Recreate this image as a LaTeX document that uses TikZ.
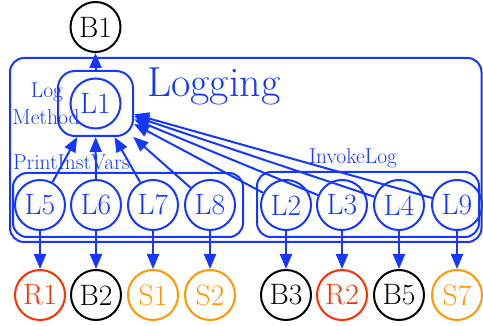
\documentclass[tikz,border=0pt]{standalone}
\usetikzlibrary{arrows.meta}
\definecolor{gvblue}{RGB}{20,56,255}
\definecolor{gvred}{RGB}{255,48,0}
\definecolor{gvorange}{RGB}{255,152,0}
\begin{document}
\begin{tikzpicture}[x=1pt,y=-1pt,
  nd/.style={circle, draw, line width=2pt, minimum size=50pt, inner sep=0pt,
    font=\fontsize{29.5}{29.5}\selectfont},
  lnode/.style={nd, gvblue},
  rnode/.style={nd, gvred},
  onode/.style={nd, gvorange},
  bnode/.style={nd, black},
  edge/.style={gvblue, line width=2pt, -{Triangle[length=15pt,width=12pt]}},
  box/.style={draw=gvblue, line width=2pt, rounded corners=14pt},
  lbl/.style={gvblue, inner sep=0pt, font=\fontsize{21.5}{21.5}\selectfont}
]
\useasboundingbox (0,0) rectangle (483,326);

% clusters
\draw[box] (10,58) rectangle (481.5,242);
\draw[box] (13,173) rectangle (243,237);
\draw[box] (257,172) rectangle (479,237);
\node[box, rounded corners=17pt, minimum width=75pt, minimum height=65pt, inner sep=0pt] (lm) at (95.5,103.5) {};

% cluster labels
\node[gvblue, inner sep=0pt, anchor=base west, font=\fontsize{42}{42}\selectfont] (tlog) at (147,97) {Logging};
\node[lbl, anchor=base] (tlm1) at (47,98) {Log};
\node[lbl, anchor=base] (tlm2) at (46,125) {Method};
\node[lbl, anchor=base west] (tpiv) at (13,170) {PrintInstVars};
\node[lbl, anchor=base] (tinv) at (353,164) {InvokeLog};

% nodes
\node[bnode] (B1) at (95.5,27) {B1};
\node[lnode] (L1) at (95.5,103.5) {L1};

\node[lnode] (L5) at (40,205) {L5};
\node[lnode] (L6) at (96,205) {L6};
\node[lnode] (L7) at (153,205) {L7};
\node[lnode] (L8) at (210,205) {L8};
\node[lnode] (L2) at (286,205) {L2};
\node[lnode] (L3) at (342,205) {L3};
\node[lnode] (L4) at (399,205) {L4};
\node[lnode] (L9) at (457,205) {L9};

\node[rnode] (R1) at (40,295) {R1};
\node[bnode] (B2) at (96,295) {B2};
\node[onode] (S1) at (153,295) {S1};
\node[onode] (S2) at (210,295) {S2};
\node[bnode] (B3) at (286,295) {B3};
\node[rnode] (R2) at (342,295) {R2};
\node[bnode] (B5) at (399,295) {B5};
\node[onode] (S7) at (457,295) {S7};

% edges
\draw[edge] (lm) -- (B1);
\foreach \s in {L5,L6,L7,L8,L2,L3,L4,L9}
  \draw[edge] (\s) -- (lm);
\draw[edge] (L5) -- (R1);
\draw[edge] (L6) -- (B2);
\draw[edge] (L7) -- (S1);
\draw[edge] (L8) -- (S2);
\draw[edge] (L2) -- (B3);
\draw[edge] (L3) -- (R2);
\draw[edge] (L4) -- (B5);
\draw[edge] (L9) -- (S7);
\end{tikzpicture}
\end{document}
